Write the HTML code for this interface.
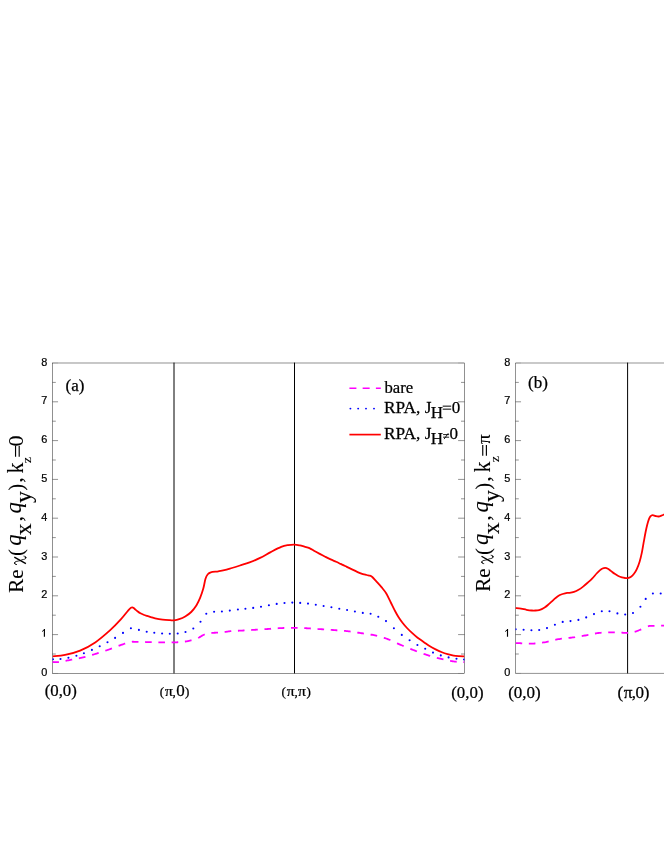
<!DOCTYPE html>
<html><head><meta charset="utf-8"><title>Figure</title>
<style>html,body{margin:0;padding:0;background:#fff;}svg{display:block;}.sf text{font-family:"Liberation Serif",serif;}.ss text{font-family:"Liberation Sans",sans-serif;}</style></head>
<body>
<svg width="664" height="860" viewBox="0 0 664 860" style="will-change:transform">
<rect width="664" height="860" fill="#fff"/>
<defs><clipPath id="ca"><rect x="52.50" y="360" width="412.00" height="316"/></clipPath><clipPath id="cb"><rect x="515.50" y="360" width="160" height="316"/></clipPath></defs>
<g fill="none" stroke="#000" stroke-width="0.43">
<rect x="52.50" y="363.00" width="412.00" height="310.40"/>
<path d="M52.50 673.40h5.55" stroke-opacity="0.3"/>
<path d="M464.50 673.40h-6.40" stroke-opacity="0.3"/>
<path d="M52.50 654.00h3.30"/>
<path d="M464.50 654.00h-3.50"/>
<path d="M52.50 634.60h5.55"/>
<path d="M464.50 634.60h-6.40"/>
<path d="M52.50 615.20h3.30"/>
<path d="M464.50 615.20h-3.50"/>
<path d="M52.50 595.80h5.55"/>
<path d="M464.50 595.80h-6.40"/>
<path d="M52.50 576.40h3.30"/>
<path d="M464.50 576.40h-3.50"/>
<path d="M52.50 557.00h5.55"/>
<path d="M464.50 557.00h-6.40"/>
<path d="M52.50 537.60h3.30"/>
<path d="M464.50 537.60h-3.50"/>
<path d="M52.50 518.20h5.55"/>
<path d="M464.50 518.20h-6.40"/>
<path d="M52.50 498.80h3.30"/>
<path d="M464.50 498.80h-3.50"/>
<path d="M52.50 479.40h5.55"/>
<path d="M464.50 479.40h-6.40"/>
<path d="M52.50 460.00h3.30"/>
<path d="M464.50 460.00h-3.50"/>
<path d="M52.50 440.60h5.55"/>
<path d="M464.50 440.60h-6.40"/>
<path d="M52.50 421.20h3.30"/>
<path d="M464.50 421.20h-3.50"/>
<path d="M52.50 401.80h5.55"/>
<path d="M464.50 401.80h-6.40"/>
<path d="M52.50 382.40h3.30"/>
<path d="M464.50 382.40h-3.50"/>
<path d="M52.50 363.00h5.55" stroke-opacity="0.3"/>
<path d="M464.50 363.00h-6.40" stroke-opacity="0.3"/>
<path d="M670 363.00H515.50V673.40H670"/>
<path d="M515.50 673.40h5.55" stroke-opacity="0.3"/>
<path d="M515.50 654.00h3.30"/>
<path d="M515.50 634.60h5.55"/>
<path d="M515.50 615.20h3.30"/>
<path d="M515.50 595.80h5.55"/>
<path d="M515.50 576.40h3.30"/>
<path d="M515.50 557.00h5.55"/>
<path d="M515.50 537.60h3.30"/>
<path d="M515.50 518.20h5.55"/>
<path d="M515.50 498.80h3.30"/>
<path d="M515.50 479.40h5.55"/>
<path d="M515.50 460.00h3.30"/>
<path d="M515.50 440.60h5.55"/>
<path d="M515.50 421.20h3.30"/>
<path d="M515.50 401.80h5.55"/>
<path d="M515.50 382.40h3.30"/>
<path d="M515.50 363.00h5.55" stroke-opacity="0.3"/>
</g>
<g stroke="#000" stroke-width="1" fill="none">
<path d="M174.00 362.60V673.40"/>
<path d="M294.50 362.60V673.40"/>
<path d="M627.60 362.60V673.40"/>
</g>
<g fill="none" stroke-width="1.8" stroke-linejoin="round">
<path clip-path="url(#ca)" stroke="#f0f" d="M52.30 662.00L52.50 662.00L52.80 662.01L53.17 662.02L53.60 662.04L54.07 662.06L54.60 662.09L55.16 662.11L55.75 662.12L56.37 662.13L57.01 662.12L57.67 662.10L58.33 662.06L58.90 662.01M65.56 660.88L65.77 660.84L66.65 660.66L67.56 660.48L68.50 660.30L69.48 660.11L70.52 659.92L71.59 659.72L72.16 659.61M78.82 658.31L79.70 658.12L80.86 657.86L82.00 657.60L83.12 657.33L84.25 657.05L85.38 656.76L85.42 656.75M92.08 654.91L92.12 654.90L93.25 654.57L94.38 654.24L95.50 653.90L96.63 653.56L97.76 653.21L98.68 652.93M105.34 650.76L105.66 650.65L106.78 650.27L107.89 649.89L109.00 649.50L110.11 649.10L111.24 648.69L111.94 648.42M118.60 645.84L119.04 645.67L120.07 645.29L121.06 644.93L122.00 644.60L122.91 644.30L123.79 644.01L124.65 643.73L125.20 643.56M131.86 641.82L132.13 641.77L132.36 641.74L132.55 641.72L132.73 641.72L132.93 641.73L133.16 641.74L133.46 641.76L133.85 641.78L134.36 641.79L135.00 641.80L135.78 641.81L136.68 641.82L137.67 641.84L138.46 641.86M145.12 642.02L145.98 642.04L147.16 642.07L148.30 642.10L149.41 642.13L150.52 642.15L151.63 642.18L151.72 642.18M158.38 642.35L159.40 642.37L160.50 642.39L161.60 642.40L162.70 642.41L163.82 642.43L164.93 642.44L164.98 642.44M171.64 642.46L172.59 642.45L173.61 642.43L174.60 642.40L175.57 642.36L176.52 642.32L177.46 642.27L178.24 642.22M184.90 641.60L184.90 641.60L185.56 641.51L186.18 641.42L186.74 641.33L187.28 641.24L187.78 641.14L188.27 641.04L188.74 640.94L189.21 640.83L189.68 640.71L190.17 640.58L190.67 640.44L191.20 640.30L191.50 640.22M198.16 637.93L198.55 637.74L199.09 637.46L199.63 637.16L200.17 636.85L200.70 636.53L201.24 636.20L201.77 635.88L202.31 635.56L202.85 635.26L203.39 634.98L203.94 634.73L204.50 634.50L204.76 634.41M211.42 633.01L211.50 633.00L212.06 632.93L212.61 632.87L213.16 632.83L213.70 632.79L214.24 632.77L214.78 632.74L215.31 632.73L215.84 632.71L216.38 632.69L216.92 632.67L217.46 632.64L218.00 632.60L218.02 632.60M224.68 631.99L225.14 631.93L225.67 631.86L226.19 631.79L226.71 631.71L227.22 631.63L227.74 631.54L228.28 631.46L228.83 631.38L229.40 631.30L230.00 631.23L230.63 631.16L231.28 631.10M237.94 630.76L238.41 630.74L239.32 630.70L240.25 630.65L241.20 630.60L242.19 630.54L243.22 630.48L244.29 630.42L244.54 630.41M251.20 630.00L252.25 629.94L253.38 629.87L254.50 629.80L255.60 629.73L256.70 629.67L257.80 629.60M264.46 629.20L265.50 629.14L266.60 629.07L267.70 629.00L268.80 628.93L269.91 628.85L271.01 628.77L271.06 628.76M277.72 628.28L278.75 628.22L279.87 628.15L281.00 628.10L282.14 628.05L283.28 628.01L284.32 627.97M290.98 627.81L291.40 627.80L292.55 627.80L293.68 627.80L294.80 627.80L295.91 627.81L297.00 627.83L297.58 627.85M304.24 628.12L304.48 628.13L305.54 628.18L306.62 628.24L307.70 628.30L308.79 628.36L309.88 628.43L310.84 628.49M317.50 628.96L317.60 628.97L318.70 629.05L319.80 629.12L320.90 629.20L321.99 629.27L323.08 629.35L324.10 629.42M330.76 629.87L331.79 629.94L332.89 630.02L334.00 630.10L335.11 630.18L336.23 630.26L337.35 630.34L337.36 630.34M344.02 630.85L344.13 630.86L345.26 630.97L346.38 631.08L347.50 631.20L348.62 631.33L349.73 631.47L350.62 631.58M357.28 632.56L357.49 632.59L358.59 632.76L359.70 632.93L360.80 633.10L361.90 633.26L363.01 633.42L363.88 633.54M370.54 634.53L370.70 634.56L371.80 634.76L372.90 634.97L374.00 635.20L375.10 635.45L376.20 635.70L377.14 635.92M383.80 637.76L383.89 637.78L384.99 638.14L386.09 638.51L387.20 638.90L388.31 639.32L389.43 639.76L390.40 640.17M397.06 643.21L397.29 643.32L398.40 643.83L399.51 644.33L400.60 644.80L401.68 645.26L402.75 645.71L403.66 646.10M410.32 648.83L411.16 649.16L412.22 649.58L413.30 650.00L414.39 650.42L415.48 650.83L416.58 651.25L416.92 651.38M423.58 653.79L424.36 654.06L425.48 654.43L426.60 654.80L427.72 655.16L428.84 655.52L429.96 655.87L430.18 655.93M436.84 657.86L437.84 658.13L438.97 658.42L440.10 658.70L441.24 658.97L442.39 659.24L443.44 659.48M450.10 660.82L450.49 660.89L451.59 661.07L452.66 661.25L453.70 661.40L454.73 661.54L455.79 661.65L456.70 661.74M463.36 662.14L463.99 662.17L464.50 662.20"/>
<path clip-path="url(#cb)" stroke="#f0f" d="M515.60 643.10L515.69 643.10L515.91 643.11L516.14 643.11L516.40 643.11L516.70 643.11L517.02 643.12L517.39 643.12L517.81 643.13L518.27 643.14L518.79 643.16L519.36 643.18L520.00 643.20L520.71 643.23L521.51 643.28L522.20 643.33M528.83 643.71L529.50 643.72L530.56 643.72L531.60 643.70L532.63 643.66L533.68 643.60L534.74 643.52L535.43 643.47M542.06 642.70L542.38 642.65L543.49 642.48L544.60 642.30L545.71 642.10L546.83 641.86L547.96 641.61L548.66 641.44M555.29 639.80L555.94 639.65L557.07 639.41L558.20 639.20L559.32 639.02L560.44 638.85L561.56 638.71L561.89 638.67M568.52 637.97L569.37 637.88L570.48 637.75L571.60 637.60L572.72 637.44L573.83 637.28L574.95 637.12L575.12 637.09M581.75 636.05L582.77 635.88L583.89 635.69L585.00 635.50L586.11 635.30L587.22 635.08L588.34 634.86L588.35 634.86M594.98 633.50L594.99 633.50L596.10 633.31L597.20 633.14L598.30 633.00L599.40 632.88L600.50 632.78L601.58 632.69M608.21 632.43L609.22 632.42L610.31 632.41L611.40 632.40L612.52 632.40L613.69 632.41L614.81 632.44M621.44 632.69L621.84 632.70L622.80 632.74L623.66 632.78L624.40 632.80L625.00 632.82L625.46 632.83L625.80 632.85L626.05 632.87L626.24 632.88L626.38 632.89L626.49 632.89L626.61 632.89L626.76 632.88L626.96 632.86L627.23 632.84L627.60 632.80L628.04 632.76M634.67 631.78L635.13 631.66L635.64 631.52L636.14 631.36L636.63 631.20L637.11 631.02L637.58 630.84L638.06 630.66L638.54 630.46L639.03 630.26L639.54 630.04L640.06 629.83L640.60 629.60L641.17 629.35L641.27 629.31M647.90 626.30L648.44 626.16L648.94 626.05L649.42 625.97L649.87 625.92L650.32 625.88L650.77 625.86L651.24 625.85L651.73 625.85L652.26 625.85L652.84 625.84L653.49 625.83L654.20 625.80L654.50 625.79M661.13 625.60L661.64 625.59L662.74 625.57L663.75 625.55L664.65 625.53L665.41 625.51L666.00 625.50"/>
<path clip-path="url(#ca)" stroke="#f00" d="M52.50 656.30 C54.60 656.07 60.50 655.85 65.10 654.90 C69.70 653.95 75.08 652.68 80.10 650.60 C85.12 648.52 90.18 645.82 95.20 642.40 C100.22 638.98 105.93 633.93 110.20 630.10 C114.47 626.27 117.78 622.70 120.80 619.40 C123.82 616.10 126.60 612.25 128.30 610.30 C130.00 608.35 130.33 608.20 131.00 607.70 C131.67 607.20 131.87 607.23 132.30 607.30 C132.73 607.37 133.13 607.77 133.60 608.10 C134.07 608.43 134.47 608.78 135.10 609.30 C135.73 609.82 136.52 610.53 137.40 611.20 C138.28 611.87 139.27 612.67 140.40 613.30 C141.53 613.93 143.07 614.57 144.20 615.00 C145.33 615.43 146.08 615.55 147.20 615.90 C148.32 616.25 149.58 616.70 150.90 617.10 C152.22 617.50 153.15 617.88 155.10 618.30 C157.05 618.72 160.10 619.28 162.60 619.60 C165.10 619.92 168.20 620.08 170.10 620.20 C172.00 620.32 172.48 620.47 174.00 620.30 C175.52 620.13 177.33 619.83 179.20 619.20 C181.07 618.57 183.20 617.70 185.20 616.50 C187.20 615.30 189.32 613.88 191.20 612.00 C193.08 610.12 195.00 607.58 196.50 605.20 C198.00 602.82 199.07 600.47 200.20 597.70 C201.33 594.93 202.42 591.75 203.30 588.60 C204.18 585.45 204.75 581.18 205.50 578.80 C206.25 576.42 206.92 575.38 207.80 574.30 C208.68 573.22 209.05 572.80 210.80 572.30 C212.55 571.80 216.05 571.65 218.30 571.30 C220.55 570.95 222.03 570.75 224.30 570.20 C226.57 569.65 229.28 568.78 231.90 568.00 C234.52 567.22 237.05 566.43 240.00 565.50 C242.95 564.57 246.25 563.67 249.60 562.40 C252.95 561.13 256.58 559.62 260.10 557.90 C263.62 556.18 267.18 553.93 270.70 552.10 C274.22 550.27 278.32 548.07 281.20 546.90 C284.08 545.73 285.78 545.49 288.00 545.10 C290.22 544.71 292.52 544.50 294.50 544.55 C296.48 544.60 298.24 545.04 299.90 545.40 C301.56 545.76 302.87 546.25 304.45 546.70 C306.03 547.15 307.74 547.38 309.40 548.10 C311.06 548.82 312.67 550.03 314.40 551.00 C316.13 551.97 318.00 552.95 319.80 553.90 C321.60 554.85 323.39 555.78 325.20 556.70 C327.01 557.62 328.83 558.55 330.65 559.40 C332.47 560.25 334.44 561.05 336.10 561.80 C337.76 562.55 339.10 563.20 340.60 563.90 C342.10 564.60 343.53 565.25 345.10 566.00 C346.67 566.75 347.40 567.17 350.00 568.40 C352.60 569.63 357.92 572.30 360.70 573.40 C363.48 574.50 365.28 574.63 366.70 575.00 C368.12 575.37 368.43 575.38 369.20 575.60 C369.97 575.82 370.70 575.98 371.30 576.30 C371.90 576.62 372.07 576.77 372.80 577.50 C373.53 578.23 374.22 579.05 375.70 580.70 C377.18 582.35 379.93 585.27 381.70 587.40 C383.47 589.53 384.78 590.98 386.30 593.50 C387.82 596.02 389.30 599.50 390.80 602.50 C392.30 605.50 394.00 609.05 395.30 611.50 C396.60 613.95 397.40 615.33 398.60 617.20 C399.80 619.07 401.10 620.90 402.50 622.70 C403.90 624.50 405.37 626.25 407.00 628.00 C408.63 629.75 410.53 631.57 412.30 633.20 C414.07 634.83 415.72 636.35 417.60 637.80 C419.48 639.25 421.62 640.52 423.60 641.90 C425.58 643.28 427.50 644.85 429.50 646.10 C431.50 647.35 433.63 648.42 435.60 649.40 C437.57 650.38 439.30 651.20 441.30 652.00 C443.30 652.80 445.55 653.60 447.60 654.20 C449.65 654.80 451.72 655.27 453.60 655.60 C455.48 655.93 457.08 656.05 458.90 656.20 C460.72 656.35 463.57 656.45 464.50 656.50"/>
<path clip-path="url(#cb)" stroke="#f00" d="M515.50 608.00 C516.42 608.10 519.17 608.30 521.00 608.60 C522.83 608.90 524.68 609.48 526.50 609.80 C528.32 610.12 530.40 610.38 531.90 610.50 C533.40 610.62 534.30 610.58 535.50 610.50 C536.70 610.42 538.05 610.27 539.10 610.05 C540.15 609.82 540.82 609.61 541.80 609.15 C542.78 608.69 543.95 608.02 545.00 607.30 C546.05 606.57 547.05 605.70 548.10 604.80 C549.15 603.90 550.23 602.88 551.30 601.90 C552.37 600.92 553.52 599.77 554.50 598.90 C555.48 598.03 556.30 597.34 557.20 596.70 C558.10 596.06 559.00 595.50 559.90 595.05 C560.80 594.60 561.40 594.36 562.60 594.00 C563.80 593.64 565.95 593.08 567.10 592.90 C568.25 592.72 568.35 593.07 569.50 592.90 C570.65 592.73 572.49 592.42 574.00 591.90 C575.51 591.38 577.03 590.68 578.55 589.80 C580.07 588.92 581.59 587.77 583.10 586.60 C584.61 585.43 586.10 584.12 587.60 582.80 C589.10 581.48 590.60 580.25 592.10 578.70 C593.60 577.15 595.32 574.88 596.60 573.50 C597.88 572.12 598.82 571.23 599.80 570.40 C600.78 569.57 601.60 568.97 602.50 568.55 C603.40 568.13 604.30 567.88 605.20 567.90 C606.10 567.92 606.92 568.17 607.90 568.70 C608.88 569.23 609.97 570.25 611.10 571.10 C612.23 571.95 613.50 572.98 614.70 573.80 C615.90 574.62 617.10 575.40 618.30 576.00 C619.50 576.60 620.78 577.07 621.90 577.40 C623.02 577.73 624.04 577.88 625.00 578.00 C625.96 578.12 626.71 578.32 627.66 578.15 C628.61 577.98 629.64 577.73 630.70 577.00 C631.76 576.27 632.98 575.12 634.00 573.80 C635.02 572.48 635.87 571.12 636.80 569.10 C637.73 567.08 638.75 564.48 639.60 561.70 C640.45 558.92 641.22 555.65 641.90 552.40 C642.58 549.15 643.08 545.60 643.70 542.20 C644.32 538.80 645.00 534.95 645.60 532.00 C646.20 529.05 646.76 526.60 647.30 524.50 C647.84 522.40 648.33 520.75 648.85 519.40 C649.37 518.05 649.77 517.10 650.40 516.40 C651.02 515.70 651.77 515.27 652.60 515.20 C653.43 515.13 654.40 515.78 655.40 516.00 C656.40 516.22 657.60 516.55 658.60 516.50 C659.60 516.45 660.50 516.02 661.40 515.70 C662.30 515.38 663.07 515.02 664.00 514.60 C664.93 514.18 666.50 513.43 667.00 513.20"/>
</g>
<g fill="#00f">
<g clip-path="url(#ca)"><circle cx="53.0" cy="659.3" r="1.05"/>
<circle cx="60.5" cy="659.0" r="1.05"/>
<circle cx="68.4" cy="657.8" r="1.05"/>
<circle cx="76.4" cy="655.8" r="1.05"/>
<circle cx="83.9" cy="653.3" r="1.05"/>
<circle cx="91.9" cy="649.9" r="1.05"/>
<circle cx="99.7" cy="646.3" r="1.05"/>
<circle cx="107.5" cy="642.3" r="1.05"/>
<circle cx="115.1" cy="637.9" r="1.05"/>
<circle cx="123.0" cy="632.9" r="1.05"/>
<circle cx="130.9" cy="628.3" r="1.05"/>
<circle cx="138.9" cy="629.9" r="1.05"/>
<circle cx="146.7" cy="631.7" r="1.05"/>
<circle cx="154.3" cy="632.7" r="1.05"/>
<circle cx="162.1" cy="633.5" r="1.05"/>
<circle cx="169.8" cy="633.8" r="1.05"/>
<circle cx="177.7" cy="633.5" r="1.05"/>
<circle cx="185.5" cy="632.0" r="1.05"/>
<circle cx="193.3" cy="628.5" r="1.05"/>
<circle cx="200.5" cy="621.7" r="1.05"/>
<circle cx="206.3" cy="613.8" r="1.05"/>
<circle cx="214.1" cy="611.8" r="1.05"/>
<circle cx="221.9" cy="611.5" r="1.05"/>
<circle cx="229.8" cy="610.6" r="1.05"/>
<circle cx="237.9" cy="609.5" r="1.05"/>
<circle cx="245.4" cy="608.8" r="1.05"/>
<circle cx="253.2" cy="607.9" r="1.05"/>
<circle cx="261.0" cy="606.7" r="1.05"/>
<circle cx="268.9" cy="605.2" r="1.05"/>
<circle cx="276.7" cy="603.9" r="1.05"/>
<circle cx="284.5" cy="603.0" r="1.05"/>
<circle cx="292.3" cy="602.6" r="1.05"/>
<circle cx="300.2" cy="602.9" r="1.05"/>
<circle cx="308.0" cy="603.6" r="1.05"/>
<circle cx="315.8" cy="604.7" r="1.05"/>
<circle cx="323.6" cy="606.0" r="1.05"/>
<circle cx="331.4" cy="607.3" r="1.05"/>
<circle cx="339.3" cy="608.8" r="1.05"/>
<circle cx="347.1" cy="610.0" r="1.05"/>
<circle cx="354.9" cy="611.5" r="1.05"/>
<circle cx="362.8" cy="612.9" r="1.05"/>
<circle cx="370.6" cy="613.8" r="1.05"/>
<circle cx="378.3" cy="616.7" r="1.05"/>
<circle cx="386.0" cy="621.1" r="1.05"/>
<circle cx="393.9" cy="628.3" r="1.05"/>
<circle cx="401.8" cy="634.9" r="1.05"/>
<circle cx="409.6" cy="640.2" r="1.05"/>
<circle cx="417.4" cy="645.0" r="1.05"/>
<circle cx="425.2" cy="648.8" r="1.05"/>
<circle cx="433.0" cy="652.6" r="1.05"/>
<circle cx="440.8" cy="655.4" r="1.05"/>
<circle cx="448.6" cy="657.4" r="1.05"/>
<circle cx="456.5" cy="658.7" r="1.05"/>
<circle cx="464.0" cy="659.5" r="1.05"/></g>
<g clip-path="url(#cb)"><circle cx="515.7" cy="629.3" r="1.05"/>
<circle cx="523.6" cy="629.7" r="1.05"/>
<circle cx="531.4" cy="630.3" r="1.05"/>
<circle cx="539.2" cy="630.0" r="1.05"/>
<circle cx="547.0" cy="628.1" r="1.05"/>
<circle cx="554.9" cy="624.8" r="1.05"/>
<circle cx="562.7" cy="621.9" r="1.05"/>
<circle cx="570.5" cy="621.1" r="1.05"/>
<circle cx="578.4" cy="619.9" r="1.05"/>
<circle cx="586.2" cy="617.4" r="1.05"/>
<circle cx="594.0" cy="614.1" r="1.05"/>
<circle cx="601.8" cy="611.3" r="1.05"/>
<circle cx="609.5" cy="611.3" r="1.05"/>
<circle cx="617.4" cy="613.4" r="1.05"/>
<circle cx="625.2" cy="614.5" r="1.05"/>
<circle cx="633.0" cy="613.0" r="1.05"/>
<circle cx="640.4" cy="606.7" r="1.05"/>
<circle cx="645.7" cy="598.9" r="1.05"/>
<circle cx="652.9" cy="593.5" r="1.05"/>
<circle cx="660.7" cy="593.5" r="1.05"/></g>
</g>
<g class="ss" font-size="10.3" fill="#000" stroke="#000" stroke-width="0.2">
<text transform="translate(47.30 676.00) scale(1.06 1)" text-anchor="end">0</text>
<path d="M44.40 629.05V636.75" stroke="#000" stroke-width="1.15" fill="none"/>
<path d="M44.70 629.35L42.10 631.55" stroke="#000" stroke-width="0.95" fill="none"/>
<text transform="translate(47.30 598.00) scale(1.06 1)" text-anchor="end">2</text>
<text transform="translate(47.30 560.00) scale(1.06 1)" text-anchor="end">3</text>
<text transform="translate(47.30 521.00) scale(1.06 1)" text-anchor="end">4</text>
<text transform="translate(47.30 482.00) scale(1.06 1)" text-anchor="end">5</text>
<text transform="translate(47.30 443.00) scale(1.06 1)" text-anchor="end">6</text>
<text transform="translate(47.30 404.00) scale(1.06 1)" text-anchor="end">7</text>
<text transform="translate(47.30 366.00) scale(1.06 1)" text-anchor="end">8</text>
<text transform="translate(510.40 676.00) scale(1.06 1)" text-anchor="end">0</text>
<path d="M507.50 629.05V636.75" stroke="#000" stroke-width="1.15" fill="none"/>
<path d="M507.80 629.35L505.20 631.55" stroke="#000" stroke-width="0.95" fill="none"/>
<text transform="translate(510.40 598.00) scale(1.06 1)" text-anchor="end">2</text>
<text transform="translate(510.40 560.00) scale(1.06 1)" text-anchor="end">3</text>
<text transform="translate(510.40 521.00) scale(1.06 1)" text-anchor="end">4</text>
<text transform="translate(510.40 482.00) scale(1.06 1)" text-anchor="end">5</text>
<text transform="translate(510.40 443.00) scale(1.06 1)" text-anchor="end">6</text>
<text transform="translate(510.40 404.00) scale(1.06 1)" text-anchor="end">7</text>
<text transform="translate(510.40 366.00) scale(1.06 1)" text-anchor="end">8</text>
</g>
<g class="sf" font-size="16" fill="#000" stroke="#000" stroke-width="0.25">
<text x="65.55" y="390.85" font-size="17">(a)</text>
<text x="528.00" y="388.40" font-size="17">(b)</text>
<text transform="translate(44.65 695.90) scale(0.990 1)" font-size="17">(0,0)</text>
<text x="159.70" y="695.90" font-size="13">(</text>
<text transform="translate(165.00 695.90) scale(1.120 1)" font-size="14">π</text>
<text x="172.40" y="695.90" font-size="13">,</text>
<text x="176.15" y="695.90" font-size="17">0</text>
<text x="184.90" y="695.90" font-size="13">)</text>
<text x="281.60" y="695.90" font-size="13">(</text>
<text transform="translate(286.80 695.90) scale(1.120 1)" font-size="14">π</text>
<text x="294.45" y="695.90" font-size="13">,</text>
<text transform="translate(298.10 695.90) scale(1.120 1)" font-size="14">π</text>
<text x="306.40" y="695.90" font-size="13">)</text>
<text transform="translate(451.25 698.30) scale(0.990 1)" font-size="17">(0,0)</text>
<text x="508.15" y="698.30" font-size="17">(0,0)</text>
<text x="617.45" y="698.30" font-size="17">(</text>
<text transform="translate(623.80 698.30) scale(1.080 1)" font-size="16">π</text>
<text x="631.85" y="698.30" font-size="17">,</text>
<text x="635.45" y="698.30" font-size="17">0</text>
<text x="643.65" y="698.30" font-size="17">)</text>
<text transform="translate(384.50 392.70) scale(0.980 1)" font-size="17">bare</text>
<text transform="translate(384.00 413.20) scale(1.018 1)" font-size="17">RPA, J</text>
<text x="430.80" y="418.20" font-size="17">H</text>
<text x="451.85" y="413.40" font-size="17">0</text>
<text transform="translate(384.00 439.10) scale(1.018 1)" font-size="17">RPA, J</text>
<text x="430.80" y="444.10" font-size="17">H</text>
<text x="449.45" y="439.20" font-size="17">0</text>
<text transform="translate(22.85 592.70) rotate(-90)" stroke-width="0.08" font-size="21">Re</text>
<text transform="translate(22.60 555.90) rotate(-90)" stroke-width="0.08" font-size="21">(</text>
<text transform="translate(21.20 545.80) rotate(-90)" stroke-width="0.08" font-size="22.5" font-style="italic">q</text>
<text transform="translate(31.30 535.20) rotate(-90)" stroke-width="0.08" font-size="23.8">x</text>
<text transform="translate(22.30 521.60) rotate(-90)" stroke-width="0.08" font-size="22">,</text>
<text transform="translate(21.20 513.50) rotate(-90)" stroke-width="0.08" font-size="22.5" font-style="italic">q</text>
<text transform="translate(31.30 503.00) rotate(-90)" stroke-width="0.08" font-size="23.8">y</text>
<text transform="translate(22.60 490.70) rotate(-90)" stroke-width="0.08" font-size="21">)</text>
<text transform="translate(22.30 482.70) rotate(-90)" stroke-width="0.08" font-size="22">,</text>
<text transform="translate(23.10 473.50) rotate(-90)" stroke-width="0.08" font-size="22.1">k</text>
<text transform="translate(31.00 463.00) rotate(-90)" stroke-width="0.08" font-size="13.5">z</text>
<text transform="translate(22.90 446.50) rotate(-90)" stroke-width="0.08" font-size="22">0</text>
<path d="M14.30 557.15L25.90 563.70" stroke="#000" stroke-width="1.4" fill="none"/>
<path d="M23.90 556.20 C24.18 556.28 25.25 556.40 25.60 556.70 C25.95 557.00 26.13 557.60 26.00 558.00 C25.87 558.40 25.47 558.80 24.80 559.10 C24.13 559.40 22.82 559.53 22.00 559.80 C21.18 560.07 20.75 560.45 19.90 560.70 C19.05 560.95 17.70 561.10 16.90 561.30 C16.10 561.50 15.50 561.60 15.10 561.90 C14.70 562.20 14.50 562.72 14.50 563.10 C14.50 563.48 14.75 563.97 15.10 564.20 C15.45 564.43 16.35 564.45 16.60 564.50" stroke="#000" stroke-width="0.85" fill="none" stroke-linecap="round"/>
<circle cx="25.50" cy="557.60" r="0.8" stroke="none"/><circle cx="14.85" cy="563.10" r="0.8" stroke="none"/>
<path d="M15.55 445.80V456.70M19.20 445.80V456.70" stroke="#000" stroke-width="1.15" fill="none"/>
<text transform="translate(490.05 591.80) rotate(-90)" stroke-width="0.08" font-size="21">Re</text>
<text transform="translate(489.80 555.00) rotate(-90)" stroke-width="0.08" font-size="21">(</text>
<text transform="translate(488.40 544.90) rotate(-90)" stroke-width="0.08" font-size="22.5" font-style="italic">q</text>
<text transform="translate(498.50 534.30) rotate(-90)" stroke-width="0.08" font-size="23.8">x</text>
<text transform="translate(489.50 520.70) rotate(-90)" stroke-width="0.08" font-size="22">,</text>
<text transform="translate(488.40 512.60) rotate(-90)" stroke-width="0.08" font-size="22.5" font-style="italic">q</text>
<text transform="translate(498.50 502.10) rotate(-90)" stroke-width="0.08" font-size="23.8">y</text>
<text transform="translate(489.80 489.80) rotate(-90)" stroke-width="0.08" font-size="21">)</text>
<text transform="translate(489.50 481.80) rotate(-90)" stroke-width="0.08" font-size="22">,</text>
<text transform="translate(490.30 472.60) rotate(-90)" stroke-width="0.08" font-size="22.1">k</text>
<text transform="translate(499.10 462.10) rotate(-90)" stroke-width="0.08" font-size="13.5">z</text>
<text transform="translate(490.20 444.00) rotate(-90)" stroke-width="0.08" font-size="19.3">π</text>
<path d="M481.50 556.25L493.10 562.80" stroke="#000" stroke-width="1.4" fill="none"/>
<path d="M491.10 555.30 C491.38 555.38 492.45 555.50 492.80 555.80 C493.15 556.10 493.33 556.70 493.20 557.10 C493.07 557.50 492.67 557.90 492.00 558.20 C491.33 558.50 490.02 558.63 489.20 558.90 C488.38 559.17 487.95 559.55 487.10 559.80 C486.25 560.05 484.90 560.20 484.10 560.40 C483.30 560.60 482.70 560.70 482.30 561.00 C481.90 561.30 481.70 561.82 481.70 562.20 C481.70 562.58 481.95 563.07 482.30 563.30 C482.65 563.53 483.55 563.55 483.80 563.60" stroke="#000" stroke-width="0.85" fill="none" stroke-linecap="round"/>
<circle cx="492.70" cy="556.70" r="0.8" stroke="none"/><circle cx="482.05" cy="562.20" r="0.8" stroke="none"/>
<path d="M482.75 444.90V455.80M486.40 444.90V455.80" stroke="#000" stroke-width="1.15" fill="none"/>
</g>
<path d="M349.4 388.2H380.8" stroke="#f0f" stroke-width="1.6" stroke-dasharray="7 6.25" fill="none"/>
<g fill="#00f"><circle cx="350.4" cy="408.6" r="0.95"/><circle cx="358.15" cy="408.6" r="0.95"/><circle cx="366.0" cy="408.6" r="0.95"/><circle cx="374.0" cy="408.6" r="0.95"/></g>
<path d="M349.4 434.6H380.8" stroke="#f00" stroke-width="1.7" fill="none"/>
<path d="M443.1 434.6h6M443.1 437.2h6M448.3 433.2l-4.2 5.9" stroke="#000" stroke-width="0.9" fill="none"/>
<path d="M442.7 406.15h8.5M442.7 409.15h8.5" stroke="#000" stroke-width="1" fill="none"/>
</svg>
</body></html>
